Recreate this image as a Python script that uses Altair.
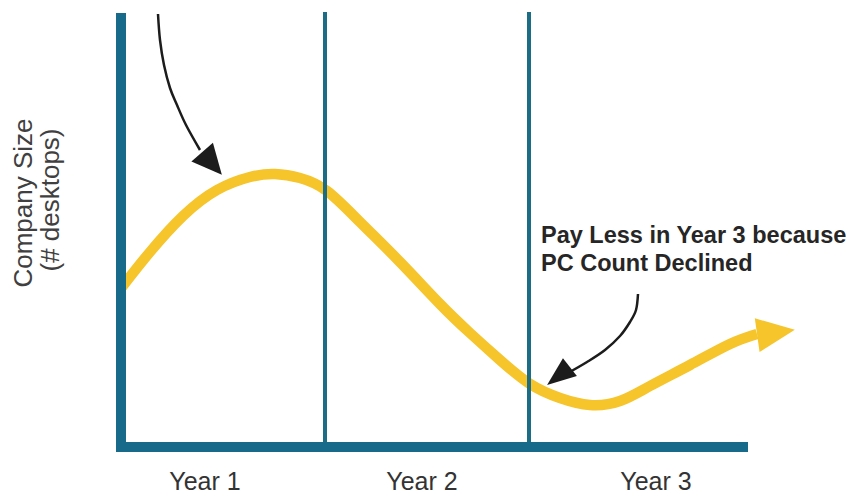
import altair as alt
import pandas as pd

# Frame of the drawing: the reference picture's own pixel grid
X_DOMAIN = [8, 846]
Y_DOMAIN = [8, 496]

# Yellow "company size" curve
curve_x = [122, 150, 183, 217, 250, 275, 300, 327, 360, 400, 440, 470, 500, 530, 560, 590, 620, 650, 690, 730, 757]
curve_y = [287, 252, 216, 190, 177, 174, 178, 191, 222, 262, 304, 333, 360, 384, 398, 405, 401, 386, 365, 344, 334]

# Black annotation arrows
arrow1_x = [158, 160, 164, 170, 177, 186, 200]
arrow1_y = [14, 40, 65, 88, 105, 125, 150]
arrow2_x = [638, 636, 630, 620, 605, 587, 568]
arrow2_y = [294, 310, 322, 336, 350, 362, 373]

# Arrow heads: centre, rotation (deg, clockwise from up)
head_x = [212, 558.5]
head_y = [163.5, 376]
head_angle = [139, 232]
yhead_x = [776]
yhead_y = [332.5]
yhead_angle = [82]

# Axes frame (thick) and year dividers (thin)
axis_x = [121, 116]
axis_x2 = [121, 748]
axis_y = [13, 447]
axis_y2 = [452, 447]
div_x = [325, 529]
div_y = [12, 12]
div_y2 = [445, 445]

# Texts
year_labels = ["Year 1", "Year 2", "Year 3"]
year_x = [205, 422, 656]
year_y = [490, 490, 490]
note_lines = ["Pay Less in Year 3 because", "PC Count Declined"]
note_x = [541, 541]
note_y = [243, 271]
ylab_lines = ["Company Size", "(# desktops)"]
ylab_x = [32, 59]
ylab_y = [203, 200]

xs = alt.Scale(domain=X_DOMAIN, nice=False, zero=False)
ys = alt.Scale(domain=Y_DOMAIN, nice=False, zero=False, reverse=True)


def X(f="x"):
    return alt.X(f"{f}:Q", scale=xs, axis=None)


def Y(f="y"):
    return alt.Y(f"{f}:Q", scale=ys, axis=None)


curve = alt.Chart(pd.DataFrame({"x": curve_x, "y": curve_y, "i": range(len(curve_x))})).mark_line(
    color="#F6C42B", strokeWidth=10.5, interpolate="natural", strokeCap="butt"
).encode(x=X(), y=Y(), order="i:Q")

yhead = alt.Chart(pd.DataFrame({"x": yhead_x, "y": yhead_y, "a": yhead_angle})).mark_point(
    shape="M0,-1 L0.9,1 L-0.9,1 Z", filled=True, opacity=1, color="#F6C42B", size=1444, strokeWidth=0
).encode(x=X(), y=Y(), angle=alt.Angle("a:Q", scale=None))

dividers = alt.Chart(pd.DataFrame({"x": div_x, "y": div_y, "y2": div_y2})).mark_rule(
    color="#1B6D85", strokeWidth=4
).encode(x=X(), y=Y(), y2="y2:Q")

axes = alt.Chart(pd.DataFrame({"x": axis_x, "x2": axis_x2, "y": axis_y, "y2": axis_y2})).mark_rule(
    color="#186A8B", strokeWidth=10
).encode(x=X(), x2="x2:Q", y=Y(), y2="y2:Q")

arrow1 = alt.Chart(pd.DataFrame({"x": arrow1_x, "y": arrow1_y, "i": range(len(arrow1_x))})).mark_line(
    color="#1C1C1C", strokeWidth=2.5, interpolate="cardinal"
).encode(x=X(), y=Y(), order="i:Q")

arrow2 = alt.Chart(pd.DataFrame({"x": arrow2_x, "y": arrow2_y, "i": range(len(arrow2_x))})).mark_line(
    color="#1C1C1C", strokeWidth=2.5, interpolate="cardinal"
).encode(x=X(), y=Y(), order="i:Q")

head1 = alt.Chart(pd.DataFrame({"x": head_x[:1], "y": head_y[:1], "a": head_angle[:1]})).mark_point(
    shape="M0,-1 L0.95,1 L-0.95,1 Z", filled=True, opacity=1, color="#1C1C1C", size=900, strokeWidth=0
).encode(x=X(), y=Y(), angle=alt.Angle("a:Q", scale=None))

head2 = alt.Chart(pd.DataFrame({"x": head_x[1:], "y": head_y[1:], "a": head_angle[1:]})).mark_point(
    shape="M0,-1 L0.78,1 L-0.78,1 Z", filled=True, opacity=1, color="#1C1C1C", size=841, strokeWidth=0
).encode(x=X(), y=Y(), angle=alt.Angle("a:Q", scale=None))

years = alt.Chart(pd.DataFrame({"x": year_x, "y": year_y, "t": year_labels})).mark_text(
    align="center", baseline="alphabetic", font="Liberation Sans", fontSize=25, color="#333333"
).encode(x=X(), y=Y(), text="t:N")

note = alt.Chart(pd.DataFrame({"x": note_x, "y": note_y, "t": note_lines})).mark_text(
    align="left", baseline="alphabetic", font="Liberation Sans", fontSize=23.5, fontWeight="bold",
    color="#262626"
).encode(x=X(), y=Y(), text="t:N")

ylab = alt.Chart(pd.DataFrame({"x": ylab_x, "y": ylab_y, "t": ylab_lines})).mark_text(
    align="center", baseline="alphabetic", angle=270, font="Liberation Sans", fontSize=26,
    color="#404040"
).encode(x=X(), y=Y(), text="t:N")

chart = alt.layer(
    curve, yhead, dividers, axes, arrow1, arrow2, head1, head2, years, note, ylab
).properties(
    width=838, height=488, padding=0, autosize="none", background="white"
).configure_view(strokeWidth=0)

chart.save("out.html", embed_options={"renderer": "svg", "actions": False})
